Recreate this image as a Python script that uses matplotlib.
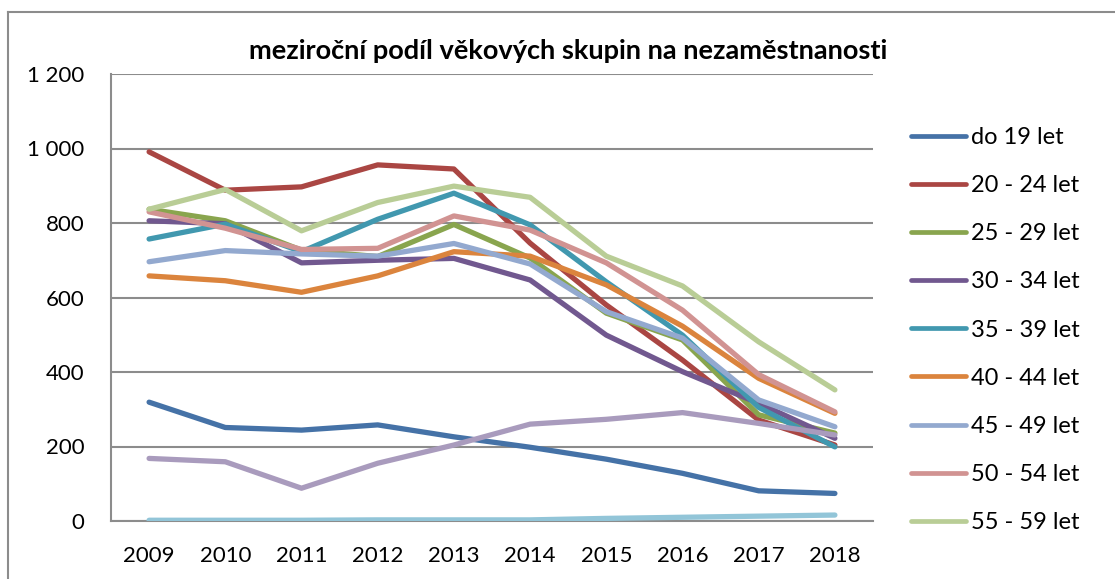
import matplotlib
matplotlib.use("Agg")
import matplotlib.pyplot as plt
from matplotlib.lines import Line2D

years = ["2009", "2010", "2011", "2012", "2013", "2014", "2015", "2016", "2017", "2018"]

do_19 = [319, 251, 244, 258, 226, 198, 166, 128, 81, 74]
let_20_24 = [991, 888, 897, 956, 945, 746, 580, 432, 271, 204]
let_25_29 = [837, 806, 727, 710, 796, 706, 558, 486, 285, 236]
let_30_34 = [806, 798, 693, 700, 705, 647, 499, 401, 316, 222]
let_35_39 = [757, 797, 723, 810, 880, 795, 642, 499, 305, 199]
let_40_44 = [658, 645, 614, 658, 723, 711, 634, 523, 383, 289]
let_45_49 = [696, 726, 717, 711, 745, 690, 562, 491, 325, 253]
let_50_54 = [830, 786, 729, 732, 819, 781, 693, 566, 393, 293]
let_55_59 = [837, 890, 779, 855, 899, 869, 711, 631, 481, 352]
let_60_64 = [168, 159, 88, 155, 204, 260, 273, 291, 262, 231]
let_65 = [2, 2, 2, 3, 3, 3, 7, 10, 13, 16]

series = [
    ("do 19 let", do_19, "#4572A7"),
    ("20 - 24 let", let_20_24, "#AA4643"),
    ("25 - 29 let", let_25_29, "#89A54E"),
    ("30 - 34 let", let_30_34, "#71588F"),
    ("35 - 39 let", let_35_39, "#4198AF"),
    ("40 - 44 let", let_40_44, "#DB843D"),
    ("45 - 49 let", let_45_49, "#93A9CF"),
    ("50 - 54 let", let_50_54, "#D19392"),
    ("55 - 59 let", let_55_59, "#B9CD96"),
    ("60 - 64 let", let_60_64, "#A99BBD"),
    ("65 a více let", let_65, "#92C5D8"),
]

yticks = [0, 200, 400, 600, 800, 1000, 1200]
ytick_labels = ["0", "200", "400", "600", "800", "1 000", "1 200"]

plt.rcParams['font.family'] = ['Lato', 'DejaVu Sans']

W, H = 1115, 579
fig = plt.figure(figsize=(W / 100, H / 100), dpi=100)
ax = fig.add_axes([111 / W, 1 - 521 / H, (873 - 111) / W, (521 - 74) / H])

x = list(range(len(years)))
handles = []
for name, vals, col in series:
    ln, = ax.plot(x, vals, color=col, lw=3.8, solid_capstyle='round',
                  solid_joinstyle='round', zorder=3, label=name)
    handles.append(ln)

ax.set_xlim(-0.5, len(years) - 0.5)
ax.set_ylim(0, 1200)
ax.set_yticks(yticks)
ax.set_yticklabels(ytick_labels)
ax.set_xticks(x)
ax.set_xticklabels(years)
ax.tick_params(axis='both', length=0, labelsize=16, colors='black')
ax.tick_params(axis='y', pad=19)
ax.tick_params(axis='x', pad=18)
ax.yaxis.grid(True, color='#8c8c8c', lw=1.5, zorder=0)
ax.set_axisbelow(True)
for s in ['top', 'right']:
    ax.spines[s].set_visible(False)
for s in ['left', 'bottom']:
    ax.spines[s].set_color('#8c8c8c')
    ax.spines[s].set_linewidth(1.5)

fig.text(568 / W, 1 - 51 / H, "meziroční podíl věkových skupin na nezaměstnanosti",
         ha='center', va='center', fontsize=19.5, fontweight='bold')

leg = fig.legend(handles=handles[:9], loc='upper left',
                 bbox_to_anchor=(911 / W, 1 - 127 / H), frameon=False,
                 fontsize=17, handlelength=2.35, handletextpad=0.2,
                 labelspacing=1.15, borderpad=0, borderaxespad=0)
for lh in leg.get_lines():
    lh.set_linewidth(3.4)

# outer chart frame (left and top edges visible)
fig.add_artist(Line2D([8 / W, 8 / W], [0, 1 - 12 / H], transform=fig.transFigure,
                      color='#8c8c8c', lw=1.5))
fig.add_artist(Line2D([8 / W, 1], [1 - 12 / H, 1 - 12 / H], transform=fig.transFigure,
                      color='#8c8c8c', lw=1.5))

fig.savefig("out.png", dpi=100)
